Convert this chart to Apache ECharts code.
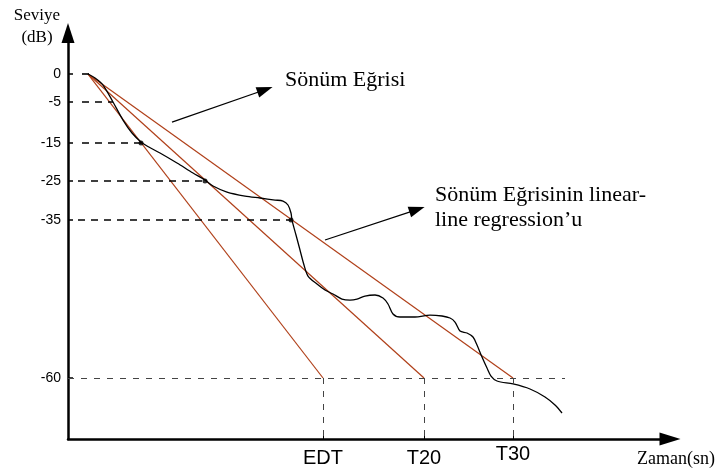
<!DOCTYPE html>
<html>
<head>
<meta charset="utf-8">
<script src="https://cdn.jsdelivr.net/npm/echarts@6/dist/echarts.min.js"></script>
<style>html,body{margin:0;padding:0;background:#fff}#c{width:721px;height:475px}</style>
</head>
<body>
<div id="c"></div>
<script>
// ---- data (axis units: time in arbitrary s, level in drawn-axis units) ----
const xTickLabels = ['EDT', 'T20', 'T30'];
const xTickValues = [1.275, 1.78, 2.225];
const yTickLabels = ['0', '-5', '-15', '-25', '-35', '-60'];
const yTickValues = [0, -5.53, -13.62, -21.12, -28.82, -60];

const decayTime = [0.10,0.135,0.175,0.225,0.275,0.32,0.365,0.395,0.46,0.545,0.625,0.685,0.725,0.795,0.885,0.96,1.035,1.075,1.10,1.115,1.12,1.14,1.16,1.18,1.20,1.245,1.285,1.325,1.37,1.41,1.445,1.485,1.535,1.575,1.60,1.625,1.66,1.735,1.81,1.87,1.91,1.935,1.96,1.995,2.025,2.045,2.07,2.095,2.115,2.145,2.225,2.31,2.385,2.435,2.47];
const decayLevel = [0,-0.79,-2.17,-5.53,-9.08,-11.64,-13.42,-14.21,-15.59,-17.57,-19.54,-20.92,-22.10,-23.29,-24.08,-24.47,-24.87,-25.07,-25.85,-27.43,-28.82,-31.78,-34.74,-37.70,-39.87,-41.45,-42.63,-43.42,-44.41,-44.61,-44.41,-43.82,-43.62,-44.21,-45.39,-47.37,-47.96,-47.96,-47.57,-47.76,-48.16,-48.95,-50.72,-51.12,-51.91,-53.49,-55.86,-58.03,-59.61,-60.59,-61.18,-62.17,-63.75,-65.33,-66.91];

const regStart = [0.10, 0];
const regEndLevel = -60;
const regEndTimes = [1.275, 1.78, 2.225]; // EDT, T20, T30

const dotTime = [0.365, 0.685, 1.115];
const dotLevel = [-13.62, -21.12, -28.82];

// dashed guide lines: level, start time, end time
const guideLevel = [0, -5.53, -13.62, -21.12, -28.82];
const guideStart = [0.07, 0.07, 0.07, 0.05, 0.05];
const guideEnd = [0.11, 0.225, 0.365, 0.685, 1.115];
const sixtyLineEnd = 2.485;
const axisMinY = -72.04;

// annotation arrows: [startT, startL, endT, endL]
const arrow1 = [0.52, -9.47, 0.985, -3.1];
const arrow2 = [1.285, -32.76, 1.745, -26.75];

const serif = '"Liberation Serif","Times New Roman",serif';
const sans = '"Liberation Sans",Arial,sans-serif';
const red = '#b0401a';

const chart = echarts.init(document.getElementById('c'));

const decayData = decayTime.map((t, i) => [t, decayLevel[i]]);
const regSeries = regEndTimes.map((t, i) => ({
  type: 'line', data: [regStart, [t, regEndLevel]], showSymbol: false, silent: true,
  lineStyle: { color: red, width: 1.2 }, z: 3
}));

const guideData = guideLevel.map((l, i) => [
  { coord: [guideStart[i], l] }, { coord: [guideEnd[i], l] }
]);
const sixtyData = [[{ coord: [0, -60] }, { coord: [sixtyLineEnd, -60] }]]
  .concat(regEndTimes.map(t => [{ coord: [t, -60] }, { coord: [t, axisMinY] }]));

chart.setOption({
  animation: false,
  grid: { left: 68, right: 51, top: 33, bottom: 36 },
  xAxis: {
    type: 'value', min: 0, max: 3.01,
    splitLine: { show: false },
    axisLine: { show: true, onZero: false, symbol: ['none', 'triangle'], symbolSize: [13, 21], lineStyle: { color: '#000', width: 2.5 } },
    axisTick: { show: true, inside: true, length: 4, customValues: xTickValues, lineStyle: { color: '#000', width: 1 } },
    axisLabel: {
      customValues: xTickValues, margin: 5,
      formatter: v => {
        const i = xTickValues.findIndex(x => Math.abs(x - v) < 1e-6);
        return i === 2 ? '{b|' + xTickLabels[i] + '}' : '{a|' + xTickLabels[i] + '}';
      },
      rich: {
        a: { fontFamily: sans, fontSize: 20, color: '#000', lineHeight: 28 },
        b: { fontFamily: sans, fontSize: 20, color: '#000', lineHeight: 20 }
      }
    }
  },
  yAxis: {
    type: 'value', min: axisMinY, max: 8.1,
    splitLine: { show: false },
    axisLine: { show: true, onZero: false, symbol: ['none', 'triangle'], symbolSize: [13, 20], lineStyle: { color: '#000', width: 2.5 } },
    axisTick: { show: true, inside: true, length: 5, customValues: yTickValues, lineStyle: { color: '#000', width: 1.5 } },
    axisLabel: {
      customValues: yTickValues, margin: 7, fontFamily: sans, fontSize: 14, color: '#000',
      formatter: v => {
        const i = yTickValues.findIndex(x => Math.abs(x - v) < 1e-6);
        return i >= 0 ? yTickLabels[i] : '';
      }
    }
  },
  series: [
    {
      type: 'line', data: decayData, smooth: 0.3, showSymbol: false, silent: true,
      lineStyle: { color: '#000', width: 1.3 }, z: 4,
      markLine: {
        silent: true, symbol: ['none', 'none'], label: { show: false },
        lineStyle: { color: '#000', width: 1.6, type: [7, 6] },
        data: guideData
      }
    },
    ...regSeries,
    {
      type: 'line', data: [], silent: true,
      markLine: {
        silent: true, symbol: ['none', 'none'], label: { show: false },
        lineStyle: { color: '#444', width: 1, type: [6, 7] },
        data: sixtyData
      }
    },
    {
      type: 'line', data: [], silent: true,
      markLine: {
        silent: true, symbol: ['none', 'triangle'], symbolSize: [11, 16], label: { show: false },
        lineStyle: { color: '#000', width: 1.3, type: 'solid' },
        data: [
          [{ coord: [arrow1[0], arrow1[1]] }, { coord: [arrow1[2], arrow1[3]] }],
          [{ coord: [arrow2[0], arrow2[1]] }, { coord: [arrow2[2], arrow2[3]] }]
        ]
      }
    },
    {
      type: 'scatter', data: dotTime.map((t, i) => [t, dotLevel[i]]), symbolSize: 5,
      itemStyle: { color: '#000' }, silent: true, z: 6
    }
  ],
  graphic: [
    { type: 'text', x: 37, y: 15.5, style: { text: 'Seviye', font: '17px ' + serif, fill: '#000', align: 'center', verticalAlign: 'middle' } },
    { type: 'text', x: 37, y: 38, style: { text: '(dB)', font: '17px ' + serif, fill: '#000', align: 'center', verticalAlign: 'middle' } },
    { type: 'text', x: 285, y: 80, style: { text: 'Sönüm Eğrisi', font: '22px ' + serif, fill: '#000', align: 'left', verticalAlign: 'middle' } },
    { type: 'text', x: 435, y: 195, style: { text: 'Sönüm Eğrisinin linear-', font: '22px ' + serif, fill: '#000', align: 'left', verticalAlign: 'middle' } },
    { type: 'text', x: 435, y: 220, style: { text: 'line regression’u', font: '22px ' + serif, fill: '#000', align: 'left', verticalAlign: 'middle' } },
    { type: 'text', x: 637, y: 459.5, style: { text: 'Zaman(sn)', font: '18px ' + serif, fill: '#000', align: 'left', verticalAlign: 'middle' } }
  ]
});
</script>
</body>
</html>
